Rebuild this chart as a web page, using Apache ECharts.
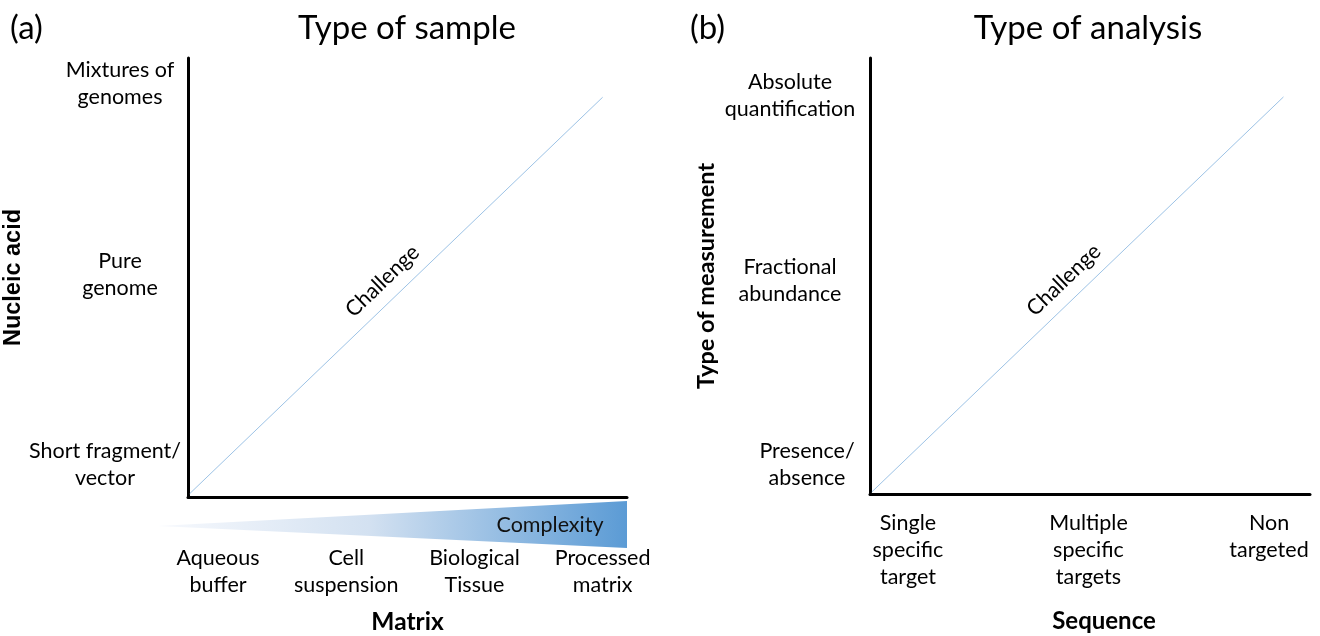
<!DOCTYPE html>
<html>
<head>
<meta charset="utf-8">
<script src="https://cdn.jsdelivr.net/npm/echarts@6/dist/echarts.min.js"></script>
<style>
  html, body { margin: 0; padding: 0; background: #fff; }
  #chart { width: 1320px; height: 636px; }
</style>
</head>
<body>
<div id="chart"></div>
<script>
// panel (a) - type of sample
const matrixLabels = ['Aqueous\nbuffer', 'Cell\nsuspension', 'Biological\nTissue', 'Processed\nmatrix'];
const nucleicLabels = ['Short fragment/\nvector', 'Pure\ngenome', 'Mixtures of\ngenomes'];
const sampleChallenge = [[-0.22, -0.15], [3.0, 1.93]];

// panel (b) - type of analysis
const sequenceLabels = ['Single\nspecific\ntarget', 'Multiple\nspecific\ntargets', 'Non\ntargeted'];
const measureLabels = ['Presence/\nabsence', 'Fractional\nabundance', 'Absolute\nquantification'];
const analysisChallenge = [[-0.2, -0.146], [2.08, 1.995]];

const FONT = 'Lato';
const LABEL_SIZE = 21.5;
const lineColor = '#9dc3e6';

let chart = echarts.init(document.getElementById('chart'));

function idx(list) {
  return list.map((_, i) => i);
}

// y labels: shift one label sideways with rich padding
function yFormatter(list, shiftIdx, rich) {
  return function (v) {
    let i = Math.round(v);
    let txt = list[i] || '';
    if (i === shiftIdx) {
      return txt.split('\n').map(s => '{' + rich + '|' + s + '}').join('\n');
    }
    return txt;
  };
}

function xAxisOpt(gridIndex, min, max, labels, margin, name, nameGap, nameStyle) {
  return {
    gridIndex: gridIndex,
    type: 'value',
    min: min,
    max: max,
    name: name,
    nameLocation: 'middle',
    nameGap: nameGap,
    nameTextStyle: nameStyle,
    axisLine: { show: true, onZero: false, lineStyle: { color: '#000', width: 3 } },
    axisTick: { show: false },
    splitLine: { show: false },
    axisLabel: {
      customValues: idx(labels),
      margin: margin,
      fontFamily: FONT,
      fontSize: LABEL_SIZE,
      lineHeight: 27,
      color: '#000',
      align: 'center',
      formatter: v => labels[Math.round(v)] || ''
    }
  };
}

function yAxisOpt(gridIndex, min, max, labels, margin, name, nameGap, nameStyle, shiftIdx, pad) {
  return {
    gridIndex: gridIndex,
    type: 'value',
    min: min,
    max: max,
    name: name,
    nameLocation: 'middle',
    nameGap: nameGap,
    nameTextStyle: nameStyle,
    axisLine: { show: true, onZero: false, lineStyle: { color: '#000', width: 3 } },
    axisTick: { show: false },
    splitLine: { show: false },
    axisLabel: {
      customValues: idx(labels),
      margin: margin,
      fontFamily: FONT,
      fontSize: LABEL_SIZE,
      lineHeight: 27,
      color: '#000',
      align: 'center',
      formatter: yFormatter(labels, shiftIdx, 's'),
      rich: {
        s: { fontFamily: FONT, fontSize: LABEL_SIZE, lineHeight: 27, color: '#000', padding: pad }
      }
    }
  };
}

function challengeSeries(gridIndex, pts) {
  return {
    type: 'line',
    xAxisIndex: gridIndex,
    yAxisIndex: gridIndex,
    data: pts,
    symbol: 'none',
    silent: true,
    lineStyle: { color: lineColor, width: 1 },
    markLine: {
      silent: true,
      symbol: ['none', 'none'],
      lineStyle: { color: 'rgba(255,255,255,0)', width: 1, type: 'solid' },
      label: {
        show: true,
        position: 'middle',
        distance: 9,
        formatter: 'Challenge',
        fontFamily: FONT,
        fontSize: LABEL_SIZE,
        color: '#000'
      },
      data: [[{ coord: pts[0] }, { coord: pts[1] }]]
    }
  };
}

let option = {
  backgroundColor: '#fff',
  animation: false,
  grid: [
    { left: 188, top: 58, width: 439, height: 439, outerBoundsMode: 'none' },
    { left: 870, top: 58, width: 440, height: 436, outerBoundsMode: 'none' }
  ],
  xAxis: [
    xAxisOpt(0, -0.234, 3.19, matrixLabels, 48, 'Matrix', 113,
      { fontFamily: FONT, fontWeight: 'bold', fontSize: 24.5, color: '#000' }),
    xAxisOpt(1, -0.21, 2.227, sequenceLabels, 16, 'Sequence', 115,
      { fontFamily: FONT, fontWeight: 'bold', fontSize: 24, color: '#000', padding: [0, 0, 0, 28] })
  ],
  yAxis: [
    yAxisOpt(0, -0.168, 2.136, nucleicLabels, 68, 'Nucleic acid', 154,
      { fontFamily: 'Liberation Sans', fontWeight: 'bold', fontSize: 23.5, color: '#000' },
      0, [0, 30, 0, 0]),
    yAxisOpt(1, -0.157, 2.206, measureLabels, 80, 'Type of measurement', 152,
      { fontFamily: FONT, fontWeight: 'bold', fontSize: 23.5, color: '#000' },
      0, [0, 0, 0, 34])
  ],
  series: [
    challengeSeries(0, sampleChallenge),
    challengeSeries(1, analysisChallenge)
  ],
  graphic: [
    {
      type: 'polygon',
      silent: true,
      z: 1,
      shape: { points: [[158, 526], [627, 501], [627, 548]] },
      style: {
        fill: new echarts.graphic.LinearGradient(0, 0, 1, 0, [
          { offset: 0, color: '#f7f9fd' },
          { offset: 0.45, color: '#d3e1f1' },
          { offset: 1, color: '#5b9bd5' }
        ])
      }
    },
    {
      type: 'text', x: 550, y: 525, z: 2, silent: true,
      style: { text: 'Complexity', fontFamily: FONT, fontSize: LABEL_SIZE, fill: '#111', align: 'center', verticalAlign: 'middle' }
    },
    {
      type: 'text', x: 10, y: 28, silent: true,
      style: { text: '(a)', fontFamily: FONT, fontSize: 33, fill: '#000', align: 'left', verticalAlign: 'middle' }
    },
    {
      type: 'text', x: 407, y: 28, silent: true,
      style: { text: 'Type of sample', fontFamily: FONT, fontSize: 33, fill: '#000', align: 'center', verticalAlign: 'middle' }
    },
    {
      type: 'text', x: 690, y: 28, silent: true,
      style: { text: '(b)', fontFamily: FONT, fontSize: 33, fill: '#000', align: 'left', verticalAlign: 'middle' }
    },
    {
      type: 'text', x: 1088, y: 28, silent: true,
      style: { text: 'Type of analysis', fontFamily: FONT, fontSize: 33, fill: '#000', align: 'center', verticalAlign: 'middle' }
    }
  ]
};

chart.setOption(option);
</script>
</body>
</html>
